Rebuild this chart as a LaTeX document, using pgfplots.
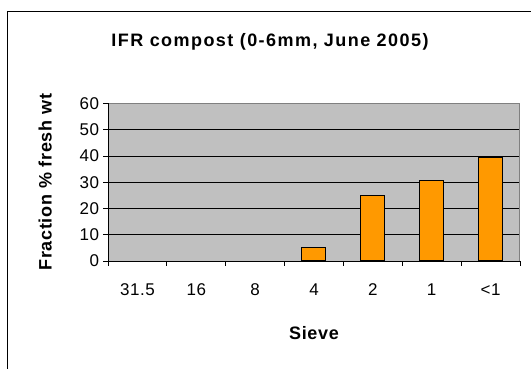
\documentclass[border=0pt]{standalone}
\usepackage{pgfplots}
\pgfplotsset{compat=1.18}
\usepackage{fontspec}
\setmainfont{Liberation Sans}
\definecolor{plotgray}{HTML}{C0C0C0}
\definecolor{bordergray}{HTML}{808080}
\definecolor{barorange}{HTML}{FF9900}
\begin{document}
\begin{tikzpicture}[x=1pt,y=1pt]
\begin{axis}[
  scale only axis, width=412pt, height=157.5pt,
  axis background/.style={fill=plotgray},
  ymin=0, ymax=60, ytick={0,10,...,60},
  xmin=-0.5, xmax=6.5,
  xtick={0,...,6},
  xticklabels={31.5,16,8,4,2,1,<1},
  major x tick style={draw=none},
  minor xtick={-0.5,0.5,...,6.5},
  minor tick length=5pt,
  major tick length=4.5pt,
  tick align=outside,
  xtick pos=left, ytick pos=left,
  tick style={black, line width=0.8pt},
  ymajorgrids, major grid style={black, line width=0.8pt},
  axis line style={draw=none},
  ticklabel style={font=\fontsize{17}{19}\selectfont\addfontfeature{LetterSpace=3}},
  xticklabel style={yshift=-15pt},
  yticklabel style={xshift=-1pt},
  /pgf/number format/assume math mode=true,
  xlabel={\bfseries Sieve}, ylabel={\bfseries Fraction \% fresh wt},
  label style={font=\fontsize{18}{20}\selectfont\addfontfeature{LetterSpace=4}},
  xlabel style={yshift=-24pt},
  ylabel style={yshift=21pt},
  clip=false,
]
\addplot[ybar, bar width=24pt, fill=barorange, draw=black, line width=1pt]
  coordinates {(3,5) (4,25) (5,30.5) (6,39.5)};
% plot-area border
\draw[bordergray, line width=1pt] (axis cs:-0.5,60) -- (axis cs:6.5,60) -- (axis cs:6.5,0);
\draw[black, line width=0.8pt] (axis cs:-0.5,0) -- (axis cs:6.5,0);
\draw[black, line width=0.8pt] (axis cs:-0.5,0) -- (axis cs:-0.5,60);
\end{axis}
% chart frame (extends past the right and bottom edges)
\draw[black, line width=1pt] (-100.5,-120) -- (-100.5,249.5) -- (440,249.5);
% title
\node[font=\fontsize{18}{20}\selectfont\bfseries\addfontfeature{LetterSpace=8}] at (162,219) {IFR compost (0-6mm, June 2005)};
\pgfresetboundingbox
\useasboundingbox (-108,-108) rectangle (423,261);
\end{tikzpicture}
\end{document}
